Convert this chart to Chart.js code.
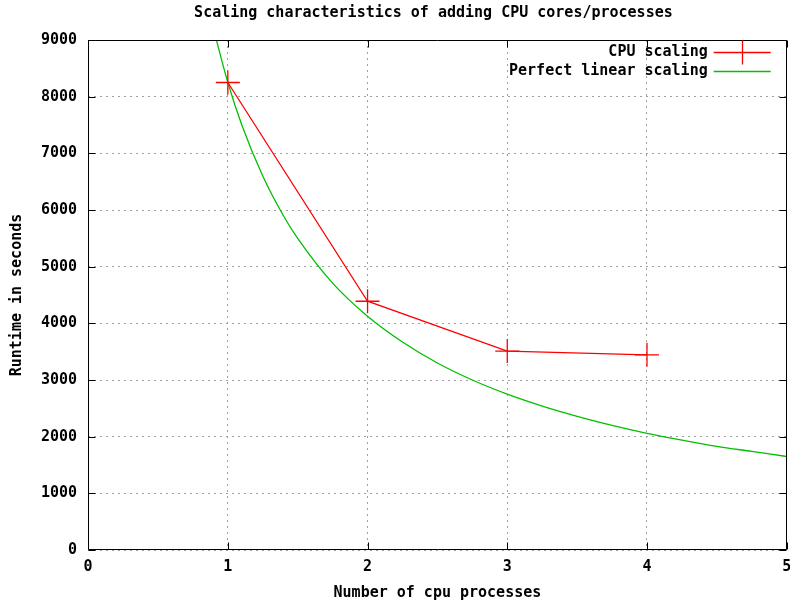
<!DOCTYPE html>
<html>
<head>
<meta charset="utf-8">
<script src="https://cdn.jsdelivr.net/npm/chart.js@4/dist/chart.umd.min.js"></script>
<style>
  html, body { margin: 0; padding: 0; background: #fff; overflow: hidden; }
  #wrap { width: 790px; height: 602px; position: relative; overflow: hidden; }
</style>
</head>
<body>
<div id="wrap"><canvas id="c" width="800" height="602"></canvas></div>
<script>
// ---- data ----
const cpuProcesses   = [1, 2, 3, 4];
const cpuRuntime     = [8250, 4390, 3510, 3445];
const perfectX       = [0.9, 1, 1.1, 1.25, 1.4, 1.5, 1.75, 2, 2.25, 2.5, 2.75, 3, 3.25, 3.5, 3.75, 4, 4.25, 4.5, 4.75, 5];
const perfectRuntime = [9170, 8250, 7500, 6600, 5890, 5500, 4710, 4125, 3670, 3300, 3000, 2750, 2540, 2360, 2200, 2060, 1940, 1830, 1740, 1650];
const xTicks = [0, 1, 2, 3, 4, 5];
const yTicks = [0, 1000, 2000, 3000, 4000, 5000, 6000, 7000, 8000, 9000];
const seriesNames = ['CPU scaling', 'Perfect linear scaling'];
const chartTitle = 'Scaling characteristics of adding CPU cores/processes';
const xTitle = 'Number of cpu processes';
const yTitle = 'Runtime in seconds';

const RED = '#ff0000';
const GREEN = '#00c000';
const FONT = '"DejaVu Sans Mono", monospace';

Chart.defaults.font.family = FONT;
Chart.defaults.font.size = 15;
Chart.defaults.font.weight = 'bold';
Chart.defaults.color = '#000';

// frame + inward mirrored ticks (gnuplot style), title and key
const framePlugin = {
  id: 'frame',
  afterDatasetsDraw(chart) {
    const {ctx, chartArea: a, scales} = chart;
    ctx.save();
    ctx.strokeStyle = '#000';
    ctx.lineWidth = 1;
    const L = Math.round(a.left) + 0.5, R = Math.round(a.right) - 0.5;
    const T = Math.round(a.top) + 0.5, B = Math.round(a.bottom) - 0.5;
    ctx.beginPath();
    ctx.rect(L, T, R - L, B - T);
    ctx.stroke();
    const tl = 7;
    ctx.beginPath();
    xTicks.forEach(v => {
      const x = Math.round(scales.x.getPixelForValue(v)) + 0.5;
      ctx.moveTo(x, B); ctx.lineTo(x, B - tl);
      ctx.moveTo(x, T); ctx.lineTo(x, T + tl);
    });
    yTicks.forEach(v => {
      const y = Math.round(scales.y.getPixelForValue(v)) + 0.5;
      ctx.moveTo(L, y); ctx.lineTo(L + tl, y);
      ctx.moveTo(R, y); ctx.lineTo(R - tl, y);
    });
    ctx.stroke();
    ctx.restore();
  },
  afterDraw(chart) {
    const {ctx, chartArea: a} = chart;
    ctx.save();
    ctx.font = 'bold 15px ' + FONT;
    ctx.fillStyle = '#000';
    // title, centred over the plot (gnuplot style)
    ctx.textAlign = 'center';
    ctx.textBaseline = 'middle';
    ctx.fillText(chartTitle, (a.left + a.right) / 2 - 4, a.top - 27);
    // key
    ctx.textAlign = 'right';
    const textRight = a.right - 79;
    const lineL = a.right - 73, lineR = a.right - 16;
    const rows = [a.top + 12, a.top + 31];
    const cols = [RED, GREEN];
    seriesNames.forEach((name, i) => {
      ctx.fillText(name, textRight, rows[i]);
      ctx.strokeStyle = cols[i];
      ctx.lineWidth = 1.3;
      ctx.beginPath();
      ctx.moveTo(lineL, Math.round(rows[i]) + 0.5);
      ctx.lineTo(lineR, Math.round(rows[i]) + 0.5);
      ctx.stroke();
    });
    const cx = Math.round((lineL + lineR) / 2) + 0.5, cy = Math.round(rows[0]) + 0.5;
    ctx.strokeStyle = RED;
    ctx.beginPath();
    ctx.moveTo(cx, cy - 12); ctx.lineTo(cx, cy + 12);
    ctx.stroke();
    ctx.restore();
  }
};

new Chart(document.getElementById('c'), {
  type: 'scatter',
  data: {
    datasets: [
      {
        label: seriesNames[0],
        data: cpuProcesses.map((x, i) => ({x, y: cpuRuntime[i]})),
        showLine: true,
        borderColor: RED,
        backgroundColor: RED,
        borderWidth: 1.3,
        pointStyle: 'cross',
        pointRadius: 12,
        pointHoverRadius: 12,
        pointBorderWidth: 1.3,
        tension: 0,
        order: 1
      },
      {
        label: seriesNames[1],
        data: perfectX.map((x, i) => ({x, y: perfectRuntime[i]})),
        showLine: true,
        borderColor: GREEN,
        backgroundColor: GREEN,
        borderWidth: 1.3,
        pointRadius: 0,
        cubicInterpolationMode: 'monotone',
        order: 2
      }
    ]
  },
  options: {
    responsive: false,
    animation: false,
    events: [],
    layout: { padding: { left: 0, right: 0, top: 40, bottom: 0 } },
    plugins: {
      legend: { display: false },
      tooltip: { enabled: false },
      title: { display: false }
    },
    scales: {
      x: {
        type: 'linear',
        min: 0, max: 5,
        afterBuildTicks: s => { s.ticks = xTicks.map(v => ({value: v})); },
        ticks: { padding: 8, font: { size: 15, weight: 'bold' }, color: '#000',
                 callback: v => String(v) },
        grid: { color: '#a0a0a0', lineWidth: 1, drawTicks: false, tickLength: 0 },
        border: { display: false, dash: [2, 4] },
        title: {
          display: true, text: xTitle, color: '#000',
          font: { size: 15, weight: 'bold' },
          padding: { top: 0, bottom: 0 }
        }
      },
      y: {
        type: 'linear',
        min: 0, max: 9000,
        afterBuildTicks: s => { s.ticks = yTicks.map(v => ({value: v})); },
        ticks: { padding: 11, font: { size: 15, weight: 'bold' }, color: '#000',
                 callback: v => String(v) },
        grid: { color: '#a0a0a0', lineWidth: 1, drawTicks: false, tickLength: 0 },
        border: { display: false, dash: [2, 4] },
        title: {
          display: true, text: yTitle, color: '#000',
          font: { size: 15, weight: 'bold' },
          padding: { top: 8, bottom: 4 }
        }
      }
    }
  },
  plugins: [framePlugin]
});
</script>
</body>
</html>
